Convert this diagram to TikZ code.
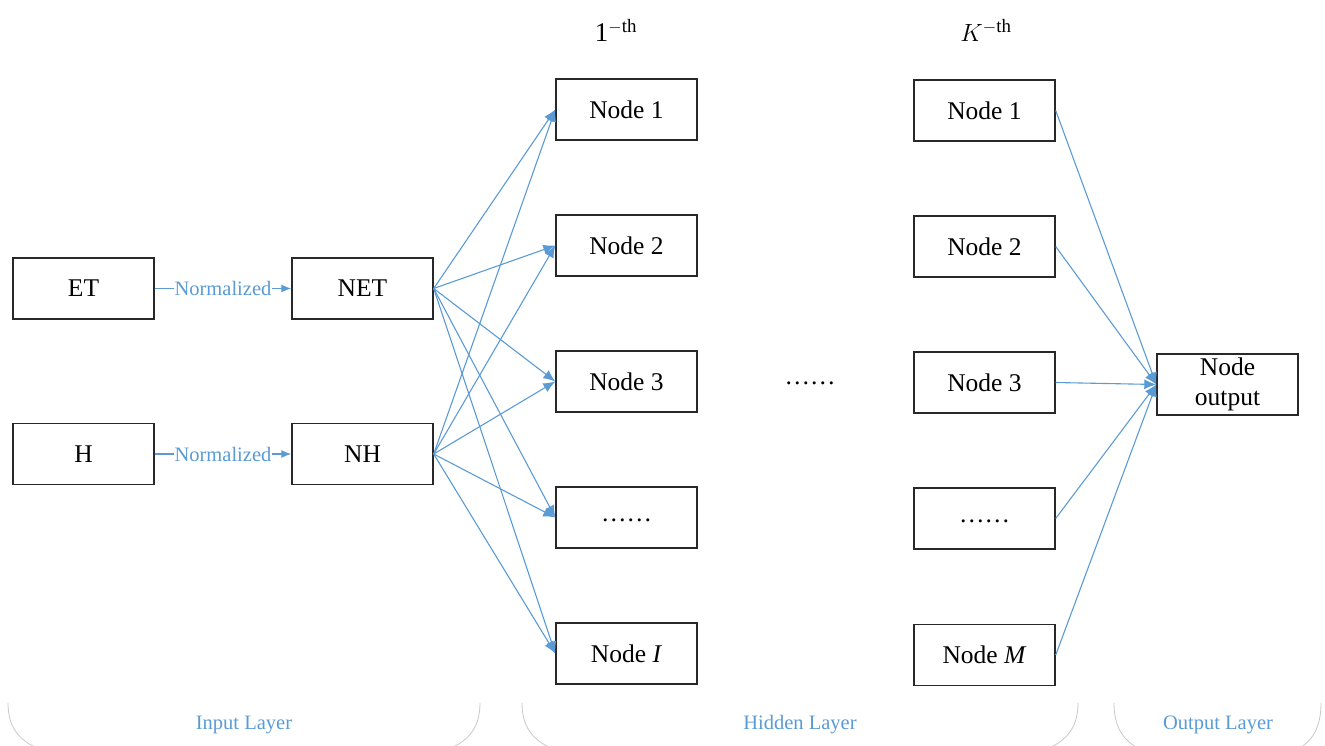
\documentclass[tikz,border=0pt]{standalone}
\usepackage{fontspec}
\setmainfont{Liberation Serif}
\usetikzlibrary{arrows.meta}
\definecolor{lblue}{RGB}{91,155,213}
\definecolor{bgray}{RGB}{200,200,200}
\definecolor{boxline}{RGB}{40,40,40}
\begin{document}
\begin{tikzpicture}[x=1pt,y=-1pt,
  box/.style={draw=boxline,line width=1.4pt,minimum width=141pt,minimum height=61pt,inner sep=0pt,font=\fontsize{25.5}{27}\selectfont,align=center},
  conn/.style={draw=lblue,line width=1.1pt,-{Latex[length=12pt,width=10pt]}},
  lbl/.style={text=lblue,font=\fontsize{20.5}{23}\selectfont},
  brace/.style={draw=bgray,line width=0.8pt}]
\useasboundingbox (0,0) rectangle (1325,745);
% input layer
\node[box] (et) at (83.5,288.5) {ET};
\node[box] (net) at (362.5,288.5) {NET};
\node[box] (h) at (83.5,454) {H};
\node[box] (nh) at (362.5,454) {NH};
% hidden column 1
\node[box] (a1) at (626.5,109.5) {Node 1};
\node[box] (a2) at (626.5,245.5) {Node 2};
\node[box] (a3) at (626.5,381.5) {Node 3};
\node[box] (a4) at (626.5,517.5) {\smash{\raisebox{-4pt}{……}}};
\node[box] (a5) at (626.5,653.5) {Node \textit{I}};
% hidden column K
\node[box] (b1) at (984.5,110.5) {Node 1};
\node[box] (b2) at (984.5,246.5) {Node 2};
\node[box] (b3) at (984.5,382.5) {Node 3};
\node[box] (b4) at (984.5,518.5) {\smash{\raisebox{-4pt}{……}}};
\node[box] (b5) at (984.5,655) {Node \textit{M}};
% output
\node[box] (out) at (1227.5,384.5) {Node\\[3pt]output};
% headers
\node[font=\fontsize{27}{29}\selectfont] (h1) at (616,30) {1$^{-\mathrm{th}}$};
\node[font=\fontsize{27}{29}\selectfont] (hk) at (986,30) {$K^{-\mathrm{th}}$};
\node[font=\fontsize{25.5}{27}\selectfont] (mid) at (810,383) {……};
% normalized
\draw[conn,-{Latex[length=10pt,width=8pt]}] (et.east) -- node[lbl,fill=white,inner sep=1pt] {Normalized} (net.west);
\draw[conn,-{Latex[length=10pt,width=8pt]}] (h.east) -- node[lbl,fill=white,inner sep=1pt] {Normalized} (nh.west);
% fan out
\foreach \s in {net,nh}{
  \foreach \t in {a1,a2,a3,a4,a5}{
    \draw[conn] (\s.east) -- (\t.west);
  }
}
% fan in
\foreach \s in {b1,b2,b3,b4,b5}{
  \draw[conn] (\s.east) -- (out.west);
}
% braces
\draw[brace] (8,703) .. controls (8,728) and (20,742) .. (42,750);
\draw[brace] (480,703) .. controls (480,728) and (468,742) .. (446,750);
\draw[brace] (522,703) .. controls (522,728) and (534,742) .. (556,750);
\draw[brace] (1078,703) .. controls (1078,728) and (1066,742) .. (1044,750);
\draw[brace] (1114,703) .. controls (1114,728) and (1124,742) .. (1142,750);
\draw[brace] (1321,703) .. controls (1321,728) and (1312,742) .. (1296,750);
\node[lbl] (il) at (244,725) {Input Layer};
\node[lbl] (hl) at (800,725) {Hidden Layer};
\node[lbl] (ol) at (1218,725) {Output Layer};
\end{tikzpicture}
\end{document}
